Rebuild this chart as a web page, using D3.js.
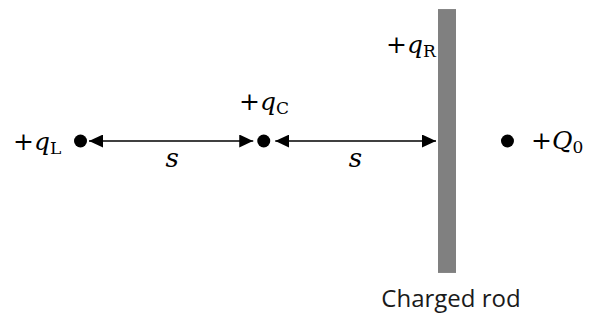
<!DOCTYPE html>
<html><head><meta charset="utf-8">
<script src="https://cdn.jsdelivr.net/npm/d3@7"></script>
<style>body{margin:0;background:#fff}svg{display:block}</style>
</head><body>
<svg id="c" width="598" height="315"></svg>
<script>
// positions along the line, in units of s
const chargeNames = ["L", "C", "Q0"];
const chargePos = [0, 1, 2.33];
const rodPos = 2;
const rodHalfLength = 0.72;
const spans = [[0, 1], [1, 2]];
const spanLabels = ["s", "s"];
const rodLabel = "Charged rod";

const svg = d3.select("#c");
const x = d3.scaleLinear().domain([0, 2]).range([80.5, 447]);
const y = d3.scaleLinear().domain([-1, 1]).range([141 - 183.25, 141 + 183.25]);

const r = 6.5;
const mathFont = "'DejaVu Serif', 'Liberation Serif', serif";

// rod
svg.append("rect")
  .attr("x", x(rodPos) - 9).attr("width", 18)
  .attr("y", y(-rodHalfLength)).attr("height", y(rodHalfLength) - y(-rodHalfLength))
  .attr("fill", "#808080");

// dots
svg.selectAll("circle.q").data(chargePos).join("circle")
  .attr("class", "q").attr("cx", d => x(d)).attr("cy", y(0)).attr("r", r).attr("fill", "#000");

// arrows
const defs = svg.append("defs");
defs.append("marker").attr("id", "ah").attr("viewBox", "0 0 14 13")
  .attr("refX", 14).attr("refY", 6.5).attr("markerWidth", 14).attr("markerHeight", 13)
  .attr("markerUnits", "userSpaceOnUse").attr("orient", "auto-start-reverse")
  .append("path").attr("d", "M0,0 L14,6.5 L0,13 Z").attr("fill", "#000");

const ends = [[x(0) + r + 2, x(1) - r - 4], [x(1) + r + 5, x(rodPos) - 9 - 2]];
ends.forEach(([a, b]) => {
  svg.append("line").attr("x1", a).attr("x2", b).attr("y1", y(0)).attr("y2", y(0))
    .attr("stroke", "#000").attr("stroke-width", 1.3)
    .attr("marker-start", "url(#ah)").attr("marker-end", "url(#ah)");
});

spans.forEach((s, i) => {
  svg.append("text").attr("x", x((s[0] + s[1]) / 2)).attr("y", y(0) + 26)
    .attr("text-anchor", "middle").attr("font-family", mathFont).attr("font-style", "italic")
    .attr("font-size", 26).text(spanLabels[i]);
});

function chargeLabel(px, py, base, sub) {
  const t = svg.append("text").attr("x", px).attr("y", py)
    .attr("font-family", mathFont).attr("font-size", 25);
  t.append("tspan").text("+");
  t.append("tspan").attr("font-style", "italic").text(base);
  t.append("tspan").attr("font-size", 17).attr("dy", 4).text(sub);
  return t;
}
chargeLabel(13, y(0) + 9, "q", "L");
chargeLabel(239, y(0) - 31, "q", "C");
chargeLabel(386, y(-rodHalfLength) + 44, "q", "R");
chargeLabel(531, y(0) + 8, "Q", "0");

svg.append("text").attr("x", x(rodPos) + 4).attr("y", 307).attr("text-anchor", "middle")
  .attr("font-family", "'Open Sans', sans-serif").attr("font-size", 24).attr("fill", "#1a1a1a")
  .text(rodLabel);
</script>
</body></html>
